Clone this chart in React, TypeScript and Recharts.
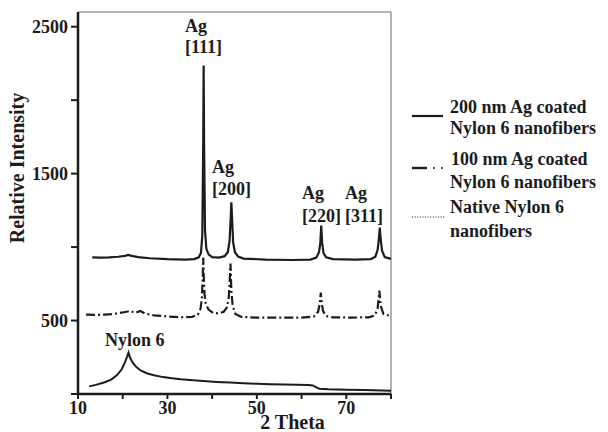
import { LineChart, Line, XAxis, YAxis, ReferenceLine, Legend, Label } from "recharts";

const FONT = "'Liberation Serif', 'Times New Roman', serif";
const INK = "#1c1c1c";

// 200 nm Ag coated Nylon 6 nanofibers
const theta200 = [13.2, 15, 17, 19, 20.5, 21.2, 22, 23.5, 26, 30, 34, 36, 37, 37.5, 37.8, 38.0, 38.1, 38.2, 38.4, 38.7, 39.2, 40, 41.5, 42.8, 43.5, 43.9, 44.15, 44.3, 44.45, 44.7, 45.1, 45.8, 47, 52, 58, 62, 63.3, 63.9, 64.2, 64.4, 64.6, 64.9, 65.5, 67, 72, 75.5, 76.5, 77.0, 77.3, 77.5, 77.7, 78.0, 78.6, 80];
const int200 = [930, 928, 930, 934, 940, 946, 940, 932, 924, 918, 915, 918, 930, 960, 1080, 1700, 2235, 1700, 1120, 990, 950, 932, 928, 938, 965, 1040, 1200, 1305, 1200, 1030, 965, 935, 922, 915, 912, 915, 928, 965, 1030, 1146, 1030, 960, 930, 918, 915, 918, 935, 980, 1060, 1133, 1050, 975, 932, 920];

// 100 nm Ag coated Nylon 6 nanofibers
const theta100 = [11.8, 14, 16, 18, 20, 21.7, 22.8, 23.9, 25, 27, 30, 33, 35.5, 36.8, 37.4, 37.7, 37.9, 38.0, 38.1, 38.3, 38.6, 39.2, 40.2, 41.5, 42.6, 43.3, 43.7, 43.95, 44.1, 44.3, 44.6, 45.2, 46.5, 50, 55, 60, 62.8, 63.7, 64.1, 64.3, 64.5, 64.8, 65.5, 67, 71, 75, 76.4, 77.0, 77.2, 77.4, 77.7, 78.3, 80];
const int100 = [540, 538, 540, 545, 555, 565, 552, 565, 548, 535, 528, 522, 525, 540, 580, 650, 800, 928, 820, 680, 610, 575, 552, 548, 560, 590, 650, 780, 888, 700, 600, 545, 525, 520, 520, 520, 528, 560, 620, 690, 620, 565, 530, 522, 520, 522, 535, 580, 640, 704, 600, 545, 530];

// native Nylon 6 nanofibers
const thetaNylon = [12.5, 14, 16, 17.5, 18.8, 19.8, 20.5, 21.0, 21.3, 21.6, 22.2, 23, 24, 25.5, 27, 29, 31, 33, 35, 38, 41, 44, 47, 50, 53, 56, 59, 61.5, 62.5, 63.3, 64, 66, 70, 74, 78, 80];
const intNylon = [52, 62, 80, 100, 130, 170, 215, 255, 282, 250, 215, 185, 160, 140, 128, 115, 108, 100, 95, 88, 82, 78, 74, 70, 67, 64, 63, 61, 58, 45, 36, 32, 29, 27, 24, 22];

const seriesNames = ["200 nm Ag coated Nylon 6 nanofibers", "100 nm Ag coated Nylon 6 nanofibers", "Native Nylon 6 nanofibers"];
const peakNames = ["[111]", "[200]", "[220]", "[311]"];

const xTicks = [10, 20, 30, 40, 50, 60, 70, 80];
const xLabelled = [10, 30, 50, 70];
const yTicks = [0, 500, 1000, 1500, 2000, 2500];
const yLabelled = [500, 1500, 2500];

const zip = (xs: number[], ys: number[]) => xs.map((t, i) => ({ theta: t, value: ys[i] }));
const data200 = zip(theta200, int200);
const data100 = zip(theta100, int100);
const dataNylon = zip(thetaNylon, intNylon);

// pixel spots for the peak notes (left x, baseline of "Ag", baseline of hkl)
const peakSpots = [
  [185, 32, 53],
  [212, 173, 195],
  [302, 199, 222],
  [345, 199, 222],
];

const textStyle = { fontFamily: FONT, fontWeight: "bold" as const, fontSize: 18, fill: INK };

function LegendBox() {
  return (
    <svg width={203} height={150} style={{ overflow: "visible" }}>
      <line x1={7} x2={38} y1={20} y2={20} stroke={INK} strokeWidth={2.2} />
      <text x={45} y={17} {...textStyle}>200 nm Ag coated</text>
      <text x={45} y={38} {...textStyle}>Nylon 6 nanofibers</text>

      <line x1={7} x2={22} y1={72} y2={72} stroke={INK} strokeWidth={2.4} />
      <circle cx={29} cy={72} r={1} fill={INK} />
      <circle cx={37} cy={72} r={1} fill={INK} />
      <text x={46} y={69} {...textStyle}>100 nm Ag coated</text>
      <text x={45} y={92} {...textStyle}>Nylon 6 nanofibers</text>

      <line x1={7} x2={40} y1={121} y2={121} stroke={INK} strokeWidth={1.2} strokeDasharray="1 1.6" />
      <text x={45} y={117} {...textStyle}>Native Nylon 6</text>
      <text x={45} y={141} {...textStyle}>nanofibers</text>
    </svg>
  );
}

export default function App() {
  return (
    <div style={{ position: "absolute", left: 0, top: 0, width: 608, height: 432, background: "#fff" }}>
      <LineChart width={608} height={432} margin={{ top: 12, right: 217, bottom: 8, left: 8 }}>
        <XAxis
          dataKey="theta"
          type="number"
          domain={[10, 80]}
          ticks={xTicks}
          tickFormatter={(v: number) => (xLabelled.includes(v) ? String(v) : "")}
          tick={textStyle}
          tickSize={5}
          tickMargin={2}
          height={30}
          axisLine={{ stroke: INK, strokeWidth: 2.5 }}
          tickLine={{ stroke: INK, strokeWidth: 2 }}
          allowDuplicatedCategory={false}
        >
          <Label value="2 Theta" position="bottom" offset={-9} dx={58} style={{ ...textStyle, fontSize: 20 }} />
        </XAxis>
        <YAxis
          type="number"
          domain={[0, 2600]}
          ticks={yTicks}
          tickFormatter={(v: number) => (yLabelled.includes(v) ? String(v) : "")}
          tick={textStyle}
          tickSize={7}
          tickMargin={3}
          width={70}
          axisLine={{ stroke: INK, strokeWidth: 2.5 }}
          tickLine={{ stroke: INK, strokeWidth: 2 }}
        >
          <Label value="Relative Intensity" angle={-90} position="center" dx={-26} dy={-35} style={{ ...textStyle, fontSize: 20 }} />
        </YAxis>
        <ReferenceLine y={2600} stroke="#666" strokeWidth={1} />
        <ReferenceLine x={80} stroke="#666" strokeWidth={1} />

        <Line data={dataNylon} dataKey="value" name={seriesNames[2]} stroke={INK} strokeWidth={2} dot={false} isAnimationActive={false} />
        <Line data={data100} dataKey="value" name={seriesNames[1]} stroke={INK} strokeWidth={2.2} strokeDasharray="9 3 2 3" dot={false} isAnimationActive={false} />
        <Line data={data200} dataKey="value" name={seriesNames[0]} stroke={INK} strokeWidth={2.2} dot={false} isAnimationActive={false} />

        <g>
          {peakNames.map((hkl, i) => (
            <g key={hkl}>
              <text x={peakSpots[i][0]} y={peakSpots[i][1]} {...textStyle}>Ag</text>
              <text x={peakSpots[i][0]} y={peakSpots[i][2]} {...textStyle}>{hkl}</text>
            </g>
          ))}
          <text x={105} y={346} {...textStyle}>Nylon 6</text>
        </g>

        <Legend
          layout="vertical"
          align="center"
          verticalAlign="middle"
          content={() => <LegendBox />}
          wrapperStyle={{ left: 405, top: 96, width: 203, height: 150 }}
        />
      </LineChart>
    </div>
  );
}
